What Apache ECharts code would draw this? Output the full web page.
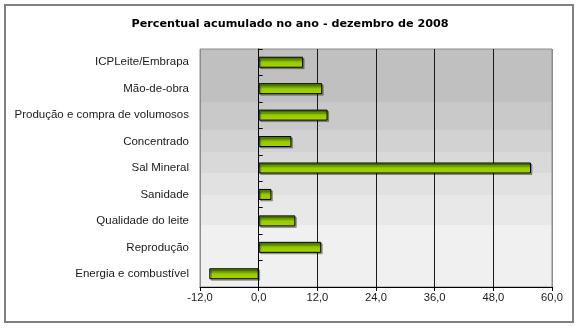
<!DOCTYPE html>
<html>
<head>
<meta charset="utf-8">
<script src="https://cdn.jsdelivr.net/npm/echarts@6/dist/echarts.min.js"></script>
<style>html,body{margin:0;padding:0;background:#fff;}#c{width:580px;height:328px;}</style>
</head>
<body>
<div id="c"></div>
<script>
var titleText = 'Percentual acumulado no ano - dezembro de 2008';
var categories = ['ICPLeite/Embrapa', 'Mão-de-obra', 'Produção e compra de volumosos', 'Concentrado', 'Sal Mineral', 'Sanidade', 'Qualidade do leite', 'Reprodução', 'Energia e combustível'];
var values = [9.1, 13.0, 14.1, 6.7, 55.7, 2.6, 7.5, 12.8, -10.1];
var axisMin = -12, axisMax = 60, axisStep = 12;

var chart = echarts.init(document.getElementById('c'), null, {renderer: 'canvas'});

function band(c1, a, b) { return [{offset: a, color: c1}, {offset: b, color: c1}]; }
var bgStops = [].concat(
  band('#c0c0c0', 0, 0.2227),
  band('#c9c9c9', 0.2227, 0.339),
  band('#d2d2d2', 0.339, 0.4328),
  band('#d9d9d9', 0.4328, 0.521),
  band('#e1e1e1', 0.521, 0.612),
  band('#e8e8e8', 0.612, 0.738),
  band('#f0f0f0', 0.738, 1)
);

var option = {
  animation: false,
  backgroundColor: '#ffffff',
  title: {
    text: titleText,
    left: 'center',
    top: 14,
    textStyle: {fontFamily: 'DejaVu Sans', fontWeight: 'bold', fontSize: 11.2, color: '#000'}
  },
  graphic: [{
    type: 'rect',
    shape: {x: 5, y: 5, width: 568, height: 317},
    style: {fill: 'none', stroke: '#808080', lineWidth: 2},
    silent: true
  }],
  grid: {
    left: 200, right: 28, top: 49, bottom: 41,
    show: true,
    borderColor: '#8c8c8c',
    borderWidth: 1,
    backgroundColor: new echarts.graphic.LinearGradient(0, 0, 0, 1, bgStops)
  },
  xAxis: {
    type: 'value',
    min: axisMin, max: axisMax, interval: axisStep,
    axisLine: {show: true, onZero: false, lineStyle: {color: '#000', width: 1}},
    axisTick: {show: true, length: 4, lineStyle: {color: '#000'}},
    axisLabel: {
      margin: 5,
      fontFamily: 'Liberation Sans', fontSize: 11.2, color: '#1a1a1a',
      formatter: function (v) { return v.toFixed(1).replace('.', ','); }
    },
    splitLine: {show: true, lineStyle: {color: ['#8c8c8c', '#000', '#1a1a1a', '#1a1a1a', '#1a1a1a', '#1a1a1a', '#8c8c8c'], width: 1}}
  },
  yAxis: [{
    type: 'category',
    data: categories,
    inverse: true,
    axisLine: {show: false, onZero: false},
    axisTick: {show: false},
    axisLabel: {margin: 11, fontFamily: 'Liberation Sans', fontSize: 11.5, color: '#1a1a1a'},
    splitLine: {show: false}
  }, {
    type: 'category',
    data: categories,
    inverse: true,
    axisLine: {show: true, onZero: true, lineStyle: {color: '#000', width: 1}},
    axisTick: {show: true, length: 4, lineStyle: {color: '#000'}},
    axisLabel: {show: false},
    splitLine: {show: false}
  }],
  series: [{
    type: 'bar',
    yAxisIndex: 0,
    data: values,
    barWidth: 11,
    itemStyle: {
      color: new echarts.graphic.LinearGradient(0, 0, 0, 1, [
        {offset: 0, color: '#5e8f00'},
        {offset: 0.35, color: '#679900'},
        {offset: 0.42, color: '#86b800'},
        {offset: 0.55, color: '#99cc00'},
        {offset: 1, color: '#a6d400'}
      ]),
      borderColor: '#000',
      borderWidth: 1,
      shadowColor: 'rgba(0,0,0,0.3)',
      shadowOffsetX: 1.5,
      shadowOffsetY: 1.5,
      shadowBlur: 0
    }
  }]
};
chart.setOption(option);
</script>
</body>
</html>
